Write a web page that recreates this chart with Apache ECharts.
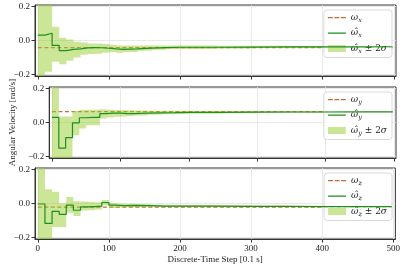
<!DOCTYPE html>
<html><head><meta charset="utf-8">
<script src="https://cdn.jsdelivr.net/npm/echarts@6/dist/echarts.min.js"></script>
<style>html,body{margin:0;padding:0;background:#fff}#c{width:403px;height:267px}</style>
</head><body><div id="c"></div>
<script>
// Discrete-time steps where the estimate updates
const steps = [0,10,20,30,40,50,60,70,80,90,100,110,120,140,160,180,200,250,300,350,400,450,498];
const xTicks = [0,100,200,300,400,500];
const yTicks = [-0.2,0.0,0.2];

// True angular velocities (constant)
const trueX = -0.042, trueY = 0.064, trueZ = -0.021;

// Estimates and +/- 2 sigma bounds
const estX = [0.032,0.043,-0.029,-0.060,-0.052,-0.050,-0.044,-0.042,-0.043,-0.046,-0.050,-0.053,-0.050,-0.045,-0.042,-0.040,-0.040,-0.039,-0.038,-0.038,-0.038,-0.037,-0.037];
const upX  = [0.53,0.27,0.082,0.016,0.006,-0.008,-0.012,-0.018,-0.018,-0.020,-0.025,-0.030,-0.030,-0.030,-0.029,-0.030,-0.030,-0.031,-0.031,-0.032,-0.032,-0.032,-0.032];
const loX  = [-0.47,-0.185,-0.125,-0.14,-0.12,-0.10,-0.085,-0.080,-0.078,-0.072,-0.070,-0.073,-0.068,-0.060,-0.055,-0.051,-0.050,-0.047,-0.045,-0.044,-0.043,-0.042,-0.042];

const estY = [0.030,-0.152,-0.090,-0.002,0.028,0.030,0.030,0.052,0.055,0.055,0.052,0.053,0.055,0.057,0.058,0.060,0.060,0.061,0.062,0.062,0.063,0.063,0.063];
const upY  = [0.50,0.035,0.035,0.068,0.075,0.075,0.075,0.078,0.075,0.074,0.072,0.072,0.071,0.070,0.069,0.069,0.068,0.068,0.067,0.067,0.067,0.067,0.067];
const loY  = [-0.50,-0.34,-0.22,-0.076,-0.036,-0.016,-0.016,0.024,0.030,0.034,0.035,0.038,0.042,0.046,0.049,0.051,0.052,0.055,0.057,0.058,0.059,0.059,0.060];

const estZ = [-0.003,-0.118,-0.046,-0.064,-0.010,-0.040,-0.020,-0.018,-0.016,0.006,-0.010,-0.012,-0.011,-0.013,-0.015,-0.015,-0.016,-0.017,-0.017,-0.018,-0.018,-0.018,-0.018];
const upZ  = [0.50,0.085,0.070,0.002,0.038,0.014,0.012,0.010,0.008,0.020,0.004,0.000,-0.002,-0.005,-0.007,-0.008,-0.009,-0.011,-0.012,-0.013,-0.013,-0.014,-0.014];
const loZ  = [-0.50,-0.33,-0.139,-0.139,-0.055,-0.074,-0.041,-0.040,-0.035,-0.010,-0.026,-0.024,-0.022,-0.021,-0.021,-0.021,-0.021,-0.021,-0.021,-0.021,-0.021,-0.021,-0.021];

const axes = ['x','y','z'];
const trueVals = [trueX,trueY,trueZ];
const ests = [estX,estY,estZ];
const ups = [upX,upY,upZ];
const los = [loX,loY,loZ];

const SERIF = 'Liberation Serif';
const MATH = 'DejaVu Serif';
const cTrue = '#c0703a', cEst = '#1f8f1f', cBand = '#9acd32', cBandLegend = '#cce698';
const tops = [5, 87, 168];
const H = 71;

const grids = [], xAxes = [], yAxes = [], series = [], legends = [];
const fmtTick = v => (Math.abs(v) < 1e-9 ? '0.0' : (v < 0 ? '\u2212' + (-v).toFixed(1) : v.toFixed(1)));

// legend icons (line-like); a zero-area spine keeps the icon box full height
const ICON_DASH = 'path://M0,0L0,7Z M0,2.9H5V4.2H0Z M6.5,2.9H11.5V4.2H6.5Z M13,2.9H18V4.2H13Z';
const ICON_SOLID = 'path://M0,0L0,7Z M0,2.9H18V4.2H0Z';

function bandRender(params, api) {
  if (params.dataIndexInside !== 0) return;
  const n = params.dataInsideLength;
  const top = [], bot = [];
  for (let k = 0; k < n; k++) {
    const x0 = api.value(0, k);
    const x1 = k < n - 1 ? api.value(0, k + 1) : x0;
    const lo = api.value(1, k), up = api.value(2, k);
    top.push(api.coord([x0, up]), api.coord([x1, up]));
    bot.push(api.coord([x0, lo]), api.coord([x1, lo]));
  }
  const pts = top.concat(bot.reverse());
  const cs = params.coordSys;
  const clipped = echarts.graphic.clipPointsByRect(pts, {x: cs.x, y: cs.y, width: cs.width, height: cs.height});
  return {type: 'polygon', shape: {points: clipped}, style: {fill: cBand, opacity: 0.5}};
}

axes.forEach((a, i) => {
  grids.push({left: 35, right: 7, top: tops[i], height: H, show: true, borderColor: '#333', borderWidth: 1, backgroundColor: 'transparent'});
  xAxes.push({
    type: 'value', gridIndex: i, min: -4, max: 503,
    axisLine: {show: true, onZero: false, lineStyle: {color: '#333', width: 1}},
    axisTick: {show: true, length: 3.5, inside: false, customValues: xTicks, lineStyle: {color: '#333'}},
    axisLabel: {show: i === 2, customValues: xTicks, margin: 5, fontFamily: SERIF, fontSize: 9, color: '#222'},
    splitLine: {show: true, customValues: xTicks, lineStyle: {color: '#e3e3e3', width: 0.8}},
    name: i === 2 ? 'Discrete-Time Step [0.1 s]' : '', nameLocation: 'middle', nameGap: 16,
    nameTextStyle: {fontFamily: SERIF, fontSize: 9, color: '#222'}
  });
  yAxes.push({
    type: 'value', gridIndex: i, min: -0.21, max: 0.21,
    axisLine: {show: true, onZero: false, lineStyle: {color: '#333', width: 1}},
    axisTick: {show: true, length: 3.5, customValues: yTicks, lineStyle: {color: '#333'}},
    axisLabel: {customValues: yTicks, formatter: fmtTick, margin: 5, fontFamily: SERIF, fontSize: 9, color: '#222'},
    splitLine: {show: true, customValues: yTicks, lineStyle: {color: '#e3e3e3', width: 0.8}},
    name: i === 1 ? 'Angular Velocity [rad/s]' : '', nameLocation: 'middle', nameGap: 22, nameRotate: 90,
    nameTextStyle: {fontFamily: SERIF, fontSize: 9, color: '#222'}
  });
  const nTrue = 'true_' + a, nEst = 'est_' + a, nBand = 'band_' + a;
  series.push({
    name: nTrue, type: 'line', xAxisIndex: i, yAxisIndex: i, showSymbol: false, symbol: 'none', z: 2,
    data: steps.map(s => [s, trueVals[i]]),
    lineStyle: {color: cTrue, width: 1.3, type: [4, 2.5]}, itemStyle: {color: cTrue}
  });
  series.push({
    name: nBand, type: 'custom', xAxisIndex: i, yAxisIndex: i, z: 3, silent: true,
    encode: {x: 0, y: [1, 2]},
    data: steps.map((s, k) => [s, los[i][k], ups[i][k]]),
    itemStyle: {color: cBandLegend},
    renderItem: bandRender
  });
  series.push({
    name: nEst, type: 'line', xAxisIndex: i, yAxisIndex: i, showSymbol: false, symbol: 'none', step: 'end', z: 4,
    data: steps.map((s, k) => [s, ests[i][k]]),
    lineStyle: {color: cEst, width: 1.2}, itemStyle: {color: cEst}
  });
  legends.push({
    show: true, orient: 'vertical', right: 11, top: tops[i] + 5,
    data: [{name: nTrue, icon: ICON_DASH}, {name: nEst, icon: ICON_SOLID}, {name: nBand, icon: 'rect'}],
    itemWidth: 18, itemHeight: 7, itemGap: 5,
    itemStyle: {borderWidth: 0},
    padding: [3, 5, 3, 4],
    backgroundColor: 'rgba(255,255,255,0.8)', borderColor: '#d0d0d0', borderWidth: 0.8, borderRadius: 3,
    selectedMode: false,
    formatter: n => {
      const ax = n.split('_')[1];
      if (n.startsWith('true')) return '{m|\u03c9}{s|' + ax + '}';
      if (n.startsWith('est')) return '{m|\u03c9\u0302}{s|' + ax + '}';
      return '{m|\u03c9\u0302}{s|' + ax + '}{r| \u00b1 2}{m|\u03c3}';
    },
    textStyle: {
      color: '#222', fontSize: 9,
      rich: {
        m: {fontFamily: MATH, fontStyle: 'italic', fontSize: 9},
        s: {fontFamily: MATH, fontStyle: 'italic', fontSize: 6.5, padding: [5, 0, 0, 0]},
        r: {fontFamily: MATH, fontSize: 9}
      }
    }
  });
});

const chart = echarts.init(document.getElementById('c'), null, {renderer: 'canvas'});
chart.setOption({
  animation: false,
  backgroundColor: '#fff',
  grid: grids, xAxis: xAxes, yAxis: yAxes, series: series, legend: legends
});
</script></body></html>
